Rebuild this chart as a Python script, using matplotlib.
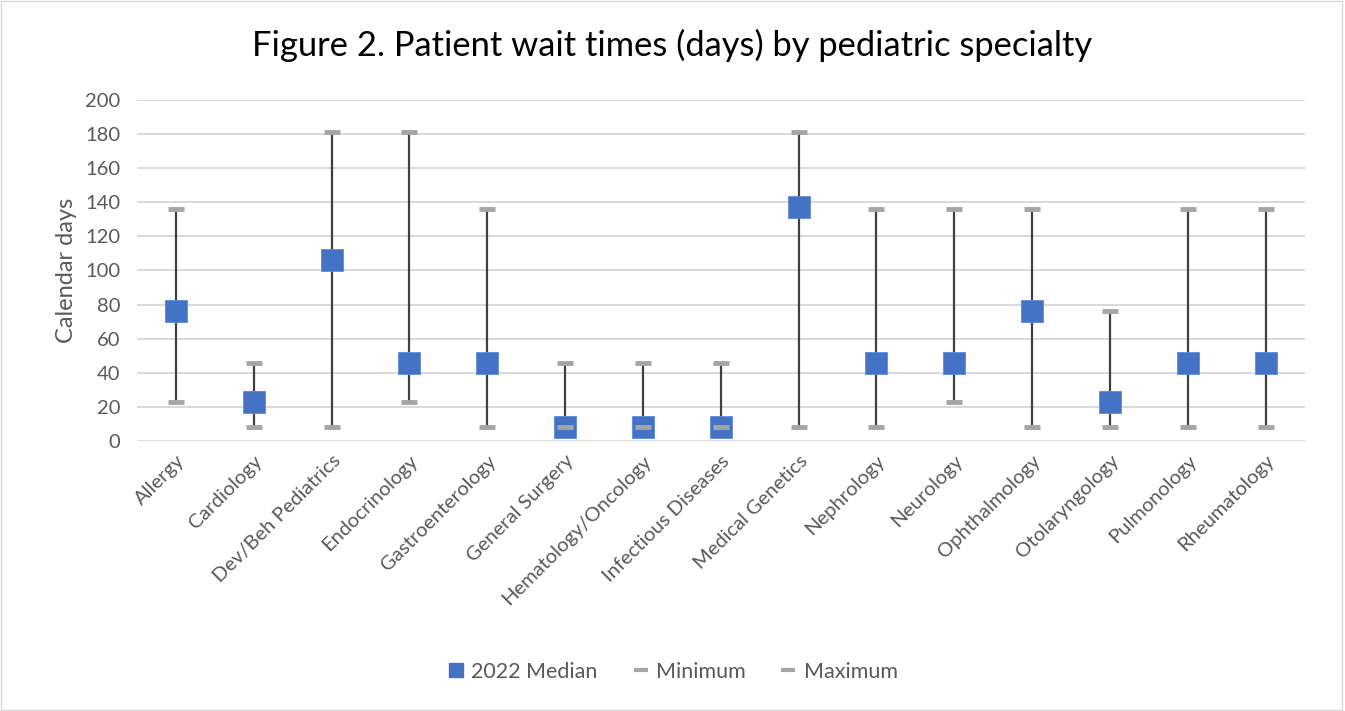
import matplotlib.pyplot as plt
from matplotlib.lines import Line2D
from matplotlib.patches import Rectangle

plt.rcParams['font.family'] = ['Lato', 'DejaVu Sans']

specialties = ["Allergy", "Cardiology", "Dev/Beh Pediatrics", "Endocrinology",
               "Gastroenterology", "General Surgery", "Hematology/Oncology",
               "Infectious Diseases", "Medical Genetics", "Nephrology", "Neurology",
               "Ophthalmology", "Otolaryngology", "Pulmonology", "Rheumatology"]
median_2022 = [76, 23, 106, 46, 46, 8, 8, 8, 137, 46, 46, 76, 23, 46, 46]
minimum = [23, 8, 8, 23, 8, 8, 8, 8, 8, 8, 23, 8, 8, 8, 8]
maximum = [136, 46, 181, 181, 136, 46, 46, 46, 181, 136, 136, 136, 76, 136, 136]
y_ticks = [0, 20, 40, 60, 80, 100, 120, 140, 160, 180, 200]

blue = "#4472C4"
cap_gray = "#A5A5A5"
text_gray = "#595959"

fig = plt.figure(figsize=(13.45, 7.11), dpi=100)
ax = fig.add_axes([0.1019, 0.3797, 0.868, 0.4797])

x = list(range(len(specialties)))
ax.vlines(x, minimum, maximum, color="#404040", linewidth=1.6, zorder=2)
ax.plot(x, median_2022, linestyle="none", marker="s", markersize=16,
        color=blue, markeredgecolor="#5B8BD9", markeredgewidth=0.6, zorder=3)
# caps drawn on top of the median squares, like the original
ax.plot(x, minimum, linestyle="none", marker="_", markersize=11,
        markeredgewidth=3.5, color=cap_gray, zorder=4)
ax.plot(x, maximum, linestyle="none", marker="_", markersize=11,
        markeredgewidth=3.5, color=cap_gray, zorder=4)

ax.set_xlim(-0.5, len(specialties) - 0.5)
ax.set_ylim(0, 200)
ax.set_yticks(y_ticks)
ax.yaxis.grid(True, color="#D9D9D9", linewidth=1.4)
ax.set_axisbelow(True)
for s in ax.spines.values():
    s.set_visible(False)
ax.tick_params(length=0, colors=text_gray, labelsize=14.5)
ax.tick_params(axis="y", pad=12)
ax.set_xticks(x)
ax.set_xticklabels(specialties, rotation=45, ha="right", rotation_mode="anchor")
ax.tick_params(axis="x", pad=8)
ax.set_ylabel("Calendar days", fontsize=17, color=text_gray, labelpad=6)

fig.suptitle("Figure 2. Patient wait times (days) by pediatric specialty",
             fontsize=24.8, color="black", y=0.96)

handles = [
    Line2D([], [], linestyle="none", marker="s", markersize=10, color=blue),
    Line2D([], [], linestyle="none", marker="_", markersize=10, markeredgewidth=3, color=cap_gray),
    Line2D([], [], linestyle="none", marker="_", markersize=10, markeredgewidth=3, color=cap_gray),
]
fig.legend(handles, ["2022 Median", "Minimum", "Maximum"], loc="center",
           bbox_to_anchor=(0.5, 0.055), ncol=3, frameon=False, fontsize=15.5,
           labelcolor=text_gray, handlelength=0.8, handletextpad=0.3,
           columnspacing=1.6)

fig.patches.append(Rectangle((0.001, 0.002), 0.997, 0.996, transform=fig.transFigure,
                             fill=False, edgecolor="#D9D9D9", linewidth=1))

fig.savefig("out.png", dpi=100)
